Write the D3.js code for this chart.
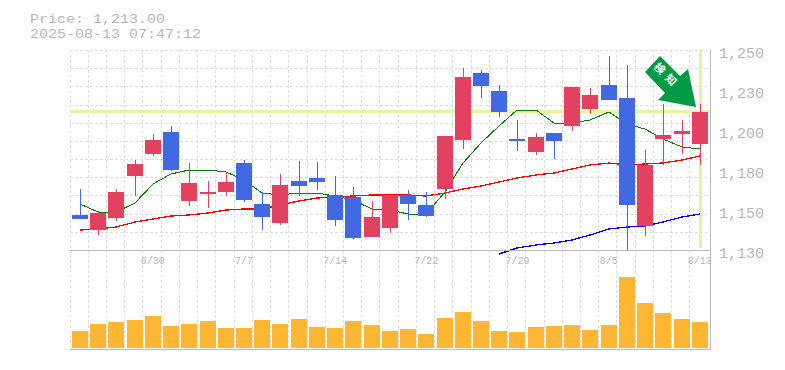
<!DOCTYPE html>
<html>
<head>
<meta charset="utf-8">
<script src="https://cdn.jsdelivr.net/npm/d3@7"></script>
<style>
body { margin: 0; background: #fff; }
svg { display: block; }
text { font-family: "Liberation Mono", monospace; fill: #b6b6b6; }
</style>
</head>
<body>
<div id="chart"></div>
<script>
var dates = ["6/24","6/25","6/26","6/27","6/30","7/1","7/2","7/3","7/4","7/7","7/8","7/9","7/10","7/11","7/14","7/15","7/16","7/17","7/18","7/22","7/23","7/24","7/25","7/28","7/29","7/30","7/31","8/1","8/4","8/5","8/6","8/7","8/8","8/12","8/13"];
var opens = [1151,1142,1149.2,1174.4,1187.6,1200.8,1159.4,1163.6,1164.8,1182.2,1157.6,1146.2,1171.4,1173.2,1163,1161.8,1137.8,1143.2,1163,1157,1166.6,1196,1236.2,1225.4,1196.6,1188.8,1200.2,1204.4,1214.6,1229,1221.2,1144.4,1196.6,1199.6,1193.6];
var highs = [1166.6,1153.4,1166.6,1184,1199.6,1204.4,1182.2,1171.4,1176.8,1184,1164.8,1175.6,1183.4,1182.8,1174.4,1167.8,1159.4,1163,1166,1164.8,1198.4,1239.2,1238,1229,1208,1200.2,1200.2,1227.8,1227.2,1246.4,1241,1190,1217.6,1208,1217.6];
var lows = [1148.6,1139,1147.4,1162.4,1186.4,1177.4,1156.4,1155.2,1162.4,1158.8,1142,1145,1162.4,1166,1144.4,1136.6,1137.8,1140.2,1148,1149.8,1160.6,1190.6,1221.2,1209.8,1189.4,1187,1184.6,1201.4,1211.6,1220,1130,1138.4,1181,1187.6,1181];
var closes = [1148.6,1152.2,1164.8,1181.6,1196,1178,1170.2,1164.8,1170.8,1160,1149.8,1169,1168.4,1170.8,1148,1137.2,1149.8,1163,1157.6,1150.4,1198.4,1233.8,1228.4,1212.8,1195.4,1197.8,1195.4,1227.8,1223,1220,1157,1181,1199,1201.4,1213];
var volumes = [170,240,260,280,320,220,240,270,200,200,280,240,290,210,200,270,230,170,190,140,300,360,270,170,160,210,220,230,180,230,710,450,350,290,260];
var maShort = [1157.6,1152.8,1152.8,1158.2,1169.6,1175.6,1178,1178,1176.8,1172,1164.2,1163,1164.2,1164.2,1162.4,1160,1154.6,1154,1151.6,1151.6,1164.8,1182.2,1194.2,1204.4,1214,1214,1206.2,1206.2,1208,1212.8,1205.6,1202.6,1196.6,1191.8,1190.6];
var maMid = [1142,1142.6,1143.8,1146.8,1148.6,1150.4,1151,1152.2,1154,1154.6,1154.6,1157,1159.4,1161.2,1161.8,1162.4,1163,1163,1163,1162.4,1164.2,1166.6,1168.4,1170.8,1173.2,1175,1176.2,1178.6,1181,1182.2,1181,1181.6,1182.2,1184,1186.4];
var maLong = [null,null,null,null,null,null,null,null,null,null,null,null,null,null,null,null,null,null,null,null,null,null,null,1127.6,1131.2,1133,1134.2,1136,1139,1142.6,1143.8,1144.4,1146.8,1149.8,1151.6];
var priceTicks = [1250,1226,1202,1178,1154,1130];
var priceLabels = ["1,250","1,230","1,200","1,180","1,150","1,130"];
var dateTicks = ["6/30","7/7","7/14","7/22","7/29","8/5","8/13"];
var lastPrice = 1213;

var svg = d3.select("#chart").append("svg").attr("width", 785).attr("height", 370);

var x = d3.scaleBand().domain(dates).range([70.8, 708.9]);
var y = d3.scaleLinear().domain([1130, 1250]).range([250, 50]);
var v = d3.scaleLinear().domain([0, 1000]).range([348, 248]);
var cx = function(d) { return Math.round(x(d) + x.bandwidth() / 2); };

// header, 13px glyphs stretched out to the 9px cell so the two rows don't collide
svg.append("text").attr("x", 30).attr("y", 23).attr("textLength", 135).attr("lengthAdjust", "spacingAndGlyphs")
    .style("font-size", "13px").text("Price: 1,213.00");
svg.append("text").attr("x", 30).attr("y", 38).attr("textLength", 171).attr("lengthAdjust", "spacingAndGlyphs")
    .style("font-size", "13px").text("2025-08-13 07:47:12");

// grid
var grid = svg.append("g").attr("stroke", "#ddd").attr("stroke-dasharray", "3,2").attr("shape-rendering", "crispEdges");
grid.selectAll(".v").data(dates).enter().append("line")
    .attr("x1", function(d) { return Math.floor(x(d) - 0.8) + 0.5; })
    .attr("x2", function(d) { return Math.floor(x(d) - 0.8) + 0.5; })
    .attr("y1", 50).attr("y2", 350);
grid.selectAll(".h").data(d3.range(0, 11)).enter().append("line")
    .attr("x1", 70).attr("x2", 710)
    .attr("y1", function(d) { return Math.round(50 + d * 200 / 11) + 0.5; })
    .attr("y2", function(d) { return Math.round(50 + d * 200 / 11) + 0.5; });

// current price guides
svg.append("rect").attr("x", 70).attr("y", y(lastPrice) - 1.7).attr("width", 640).attr("height", 3).attr("fill", "#e3f5a3");
svg.append("rect").attr("x", cx("8/13") - 1).attr("y", 51).attr("width", 3).attr("height", 197).attr("fill", "#e3f5a3");

// moving averages
function drawLine(values, color, w) {
    var line = d3.line()
        .defined(function(d) { return d != null; })
        .x(function(d, i) { return cx(dates[i]); })
        .y(function(d) { return y(d); });
    svg.append("path").attr("d", line(values)).attr("fill", "none")
        .attr("stroke", color).attr("stroke-width", w).attr("shape-rendering", "crispEdges");
}
drawLine(maLong, "#0000ff", 1.3);
drawLine(maMid, "#ff0000", 1.3);
drawLine(maShort, "#008000", 1);

// candles
var candle = svg.append("g").attr("shape-rendering", "crispEdges");
var candleColor = function(d, i) { return closes[i] >= opens[i] ? "#e2425f" : "#4169e1"; };
candle.selectAll(".wick").data(dates).enter().append("rect")
    .attr("x", function(d) { return cx(d); })
    .attr("width", 1)
    .attr("y", function(d, i) { return Math.round(y(highs[i])); })
    .attr("height", function(d, i) { return Math.round(y(lows[i])) - Math.round(y(highs[i])); })
    .attr("fill", candleColor);
candle.selectAll(".body").data(dates).enter().append("rect")
    .attr("x", function(d) { return cx(d) - 8; })
    .attr("width", 16)
    .attr("y", function(d, i) { return Math.round(y(Math.max(opens[i], closes[i]))); })
    .attr("height", function(d, i) { return Math.round(y(Math.min(opens[i], closes[i]))) - Math.round(y(Math.max(opens[i], closes[i]))); })
    .attr("fill", candleColor);

// volume
svg.append("g").attr("shape-rendering", "crispEdges").selectAll("rect").data(dates).enter().append("rect")
    .attr("x", function(d) { return cx(d) - 8; })
    .attr("width", 16)
    .attr("y", function(d, i) { return Math.round(v(volumes[i])); })
    .attr("height", function(d, i) { return 348 - Math.round(v(volumes[i])); })
    .attr("fill", "#ffb733");

// frame
var frame = svg.append("g").attr("stroke", "#bbb").attr("shape-rendering", "crispEdges");
frame.append("line").attr("x1", 70).attr("x2", 710).attr("y1", 250.5).attr("y2", 250.5);
frame.append("line").attr("x1", 70).attr("x2", 710).attr("y1", 349.5).attr("y2", 349.5);
frame.append("line").attr("x1", 710.5).attr("x2", 710.5).attr("y1", 50).attr("y2", 350);

// axes
var yAxis = d3.axisRight(y).tickValues(priceTicks)
    .tickFormat(function(d, i) { return priceLabels[i]; }).tickSize(0).tickPadding(9);
var gy = svg.append("g").attr("transform", "translate(710,3)").call(yAxis);
gy.select(".domain").remove();
gy.selectAll("text").style("font-size", "15px").style("font-family", null).attr("fill", null);

var xAxis = d3.axisBottom(x).tickValues(dateTicks).tickSize(0).tickPadding(0);
var gx = svg.append("g").attr("transform", "translate(0,257)").call(xAxis);
gx.select(".domain").remove();
gx.selectAll("text").style("font-size", "10px").attr("fill", null);

// detection badge
var badge = svg.append("g");
badge.append("path")
    .attr("d", "M660,56L645,72L665,93L658,100L696,107L688,69L680,76Z")
    .attr("fill", "#009944");
badge.append("text").attr("transform", "translate(667,76) rotate(45)")
    .attr("text-anchor", "middle").attr("dy", "0.35em")
    .style("font-family", "'Noto Sans CJK JP'").style("font-size", "11px").style("font-weight", "bold")
    .style("letter-spacing", "5px").style("fill", "#fff")
    .text("検知");
</script>
</body>
</html>
